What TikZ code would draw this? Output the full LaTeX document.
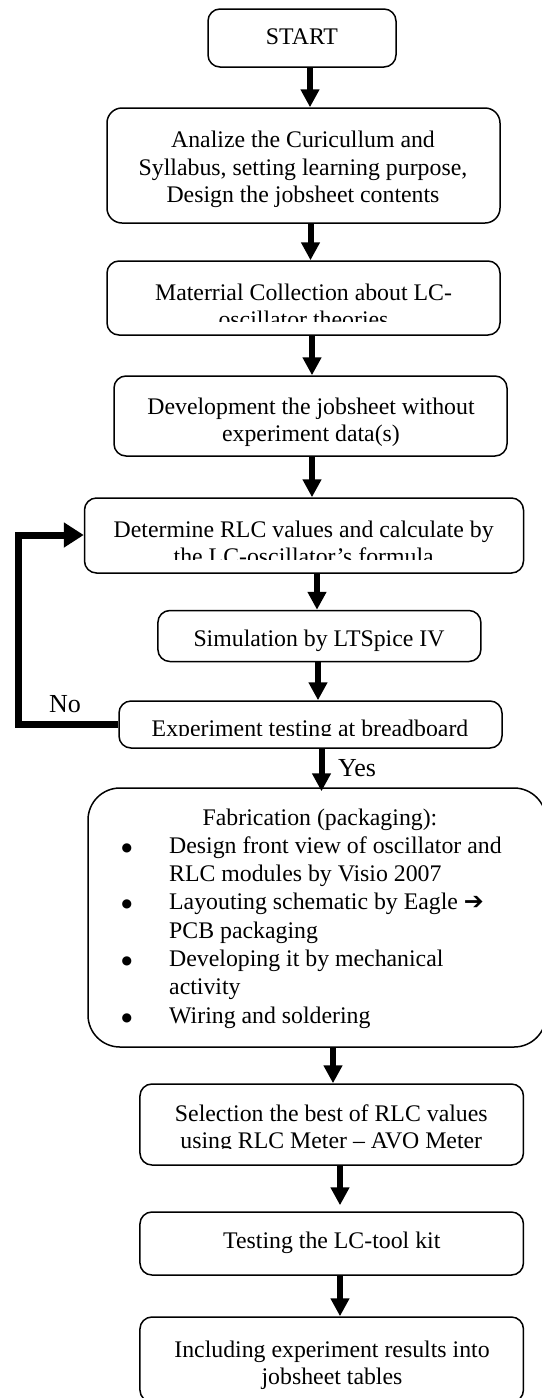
\documentclass[tikz,border=0pt]{standalone}
\usepackage{fontspec}
\setmainfont{Liberation Serif}
\newfontfamily\dejavu{DejaVu Sans}
\usetikzlibrary{arrows.meta}
\newcommand\myBul{\makebox[0pt]{\raisebox{2pt}{\dejavu\fontsize{12}{12}\selectfont ●}}\hspace*{42.4pt}}
\newcommand\myInd{\hspace*{42.4pt}}
\begin{document}
\begin{tikzpicture}[x=1pt,y=-1pt,
  box/.style={draw, line width=1.5pt, rounded corners=12pt, inner sep=0pt},
  txt/.style={inner sep=0pt, align=center, font=\fontsize{23.8}{27.4}\selectfont},
  lbl/.style={inner sep=0pt, font=\fontsize{26}{30}\selectfont},
  arr/.style={line width=6pt, -{Triangle[length=18pt,width=18pt]}},
  looparr/.style={line width=7pt, line join=miter, -{Triangle[length=20pt,width=24pt]}}]
\useasboundingbox (0,0) rectangle (541,1398);
\fill[white] (0,0) rectangle (541,1398);

% boxes
\node[box, minimum width=188pt, minimum height=58pt] (b1) at (302,38) {};
\node[box, rounded corners=15pt, minimum width=393pt, minimum height=115pt] (b2) at (303.5,165.5) {};
\node[box, minimum width=393pt, minimum height=74pt] (b3) at (303.5,298) {};
\node[box, minimum width=393pt, minimum height=80pt] (b4) at (310.5,416) {};
\node[box, minimum width=439pt, minimum height=75pt] (b5) at (304,535.5) {};
\node[box, minimum width=323pt, minimum height=51pt] (b6) at (319.4,636) {};
\node[box, minimum width=383pt, minimum height=47pt] (b7) at (310.5,724.5) {};
\node[box, rounded corners=32pt, minimum width=458pt, minimum height=259pt] (b8) at (317,917.5) {};
\node[box, minimum width=383.5pt, minimum height=81pt] (b9) at (331.7,1124.5) {};
\node[box, minimum width=383.5pt, minimum height=63pt] (b10) at (331.7,1243.5) {};
\node[box, minimum width=383.5pt, minimum height=85pt] (b11) at (331.7,1359.5) {};

% texts
\node[txt] (t1) at (302,37) {START};
\node[txt] (t2) at (303,169.5) {Analize the Curicullum and\\Syllabus, setting learning purpose,\\Design the jobsheet contents};
\begin{scope}
  \clip (100,255) rectangle (510,321);
  \node[txt] (t3) at (303.5,306) {Materrial Collection about LC-\\oscillator theories};
\end{scope}
\node[txt] (t4) at (311,422.5) {Development the jobsheet without\\experiment data(s)};
\begin{scope}
  \clip (80,490) rectangle (530,559);
  \node[txt] (t5) at (303.7,543) {Determine RLC values and calculate by\\the LC-oscillator’s formula};
\end{scope}
\node[txt] (t6) at (319,640.5) {Simulation by LTSpice IV};
\begin{scope}
  \clip (110,695) rectangle (510,735.5);
  \node[txt] (t7) at (310,730.5) {Experiment testing at breadboard};
\end{scope}
\node[txt] (t8) at (320,819.5) {Fabrication (packaging):};
\node[inner sep=0pt, anchor=north west, font=\fontsize{23.8}{28.3}\selectfont] (l8) at (126.6,833.2) {%
  \begin{tabular}{@{}l@{}}
  \myBul Design front view of oscillator and\\
  \myInd RLC modules by Visio 2007\\
  \myBul Layouting schematic by Eagle {\dejavu ➔}\\
  \myInd PCB packaging\\
  \myBul Developing it by mechanical\\
  \myInd activity\\
  \myBul Wiring and soldering
  \end{tabular}};
\begin{scope}
  \clip (130,1080) rectangle (530,1148);
  \node[txt] (t9) at (331.3,1129) {Selection the best of RLC values\\using RLC Meter – AVO Meter};
\end{scope}
\node[txt] (t10) at (331.8,1242.5) {Testing the LC-tool kit};
\node[txt] (t11) at (332,1365) {Including experiment results into\\jobsheet tables};

% labels
\node[lbl] (no) at (65,704.5) {No};
\node[lbl] (yes) at (357,768) {Yes};

% arrow columns
\coordinate (c1) at (310,0);
\coordinate (c2) at (310.5,0);
\coordinate (c3) at (312,0);
\coordinate (c4) at (312,0);
\coordinate (c5) at (317,0);
\coordinate (c6) at (318,0);
\coordinate (c7) at (321.5,0);
\coordinate (c8) at (333,0);
\coordinate (c9) at (340,0);
\coordinate (c10) at (340,0);
\coordinate (lp) at (18,535);

\draw[arr] (b1.south -| c1) -- (b2.north -| c1);
\draw[arr] (b2.south -| c2) -- (b3.north -| c2);
\draw[arr] (b3.south -| c3) -- (b4.north -| c3);
\draw[arr] (b4.south -| c4) -- (b5.north -| c4);
\draw[arr] (b5.south -| c5) -- (b6.north -| c5);
\draw[arr] (b6.south -| c6) -- (b7.north -| c6);
\draw[arr, shorten >=-4pt] (b7.south -| c7) -- (b8.north -| c7);
\draw[arr] (b8.south -| c8) -- (b9.north -| c8);
\draw[arr, shorten >=6pt] (b9.south -| c9) -- (b10.north -| c9);
\draw[arr] (b10.south -| c10) -- (b11.north -| c10);

\draw[looparr] (b7.west) -| (lp) -- (lp -| b5.west);
\end{tikzpicture}
\end{document}
